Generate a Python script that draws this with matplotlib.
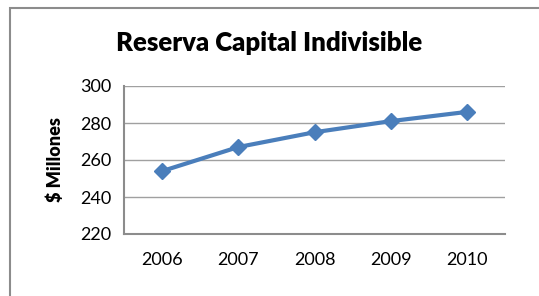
import matplotlib
matplotlib.use("Agg")
import matplotlib.pyplot as plt
from matplotlib.patches import Rectangle

years = ["2006", "2007", "2008", "2009", "2010"]
values = [254, 267, 275, 281, 286]
yticks = [220, 240, 260, 280, 300]

plt.rcParams['font.family'] = ['Lato', 'DejaVu Sans']

W, H = 539, 296
fig = plt.figure(figsize=(W/100, H/100), dpi=100)
fig.patch.set_facecolor('white')

# outer chart border (extends beyond the image at right/bottom)
fig.patches.append(Rectangle((10/W, -0.1), 1.2, 1 - 8/H + 0.1, transform=fig.transFigure,
                             fill=False, edgecolor='#8c8c8c', linewidth=1.5, clip_on=False))

ax = fig.add_axes([124/W, 1 - 234/H, (505-124)/W, (234-86)/H])
x = list(range(len(years)))
ax.plot(x, values, color='#4a7ebb', linewidth=3, marker='D', markersize=8.5,
        markeredgecolor='#4a7ebb', markerfacecolor='#4a7ebb', zorder=3)
ax.set_xlim(-0.5, len(years) - 0.5)
ax.set_ylim(220, 300)
ax.set_yticks(yticks)
ax.set_xticks(x)
ax.set_xticklabels(years)
ax.tick_params(axis='both', length=0, labelsize=13, colors='black')
ax.tick_params(axis='y', pad=9)
ax.tick_params(axis='x', pad=13)
ax.grid(axis='y', color='#a0a0a0', linewidth=1)
ax.set_axisbelow(True)
for s in ['top', 'right']:
    ax.spines[s].set_visible(False)
for s in ['left', 'bottom']:
    ax.spines[s].set_color('#8c8c8c')
    ax.spines[s].set_linewidth(1.5)
ax.set_ylabel('$ Millones', fontsize=13, fontweight='heavy', labelpad=12)

fig.text(269/W, 1 - 43/H, 'Reserva Capital Indivisible', ha='center', va='center',
         fontsize=18.5, fontweight='heavy')

fig.savefig('out.png', dpi=100)
